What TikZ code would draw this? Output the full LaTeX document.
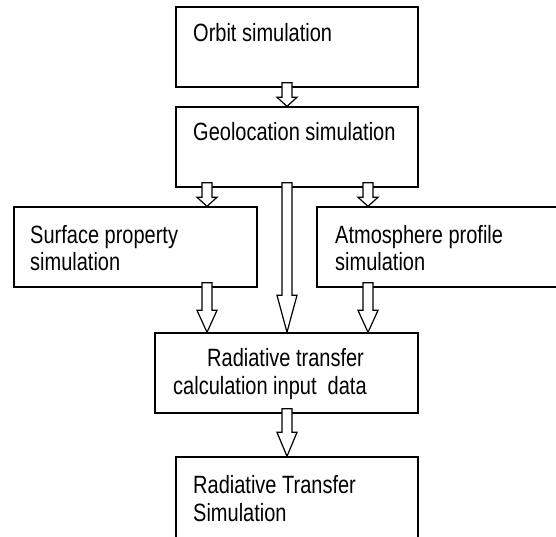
\documentclass[tikz,border=0pt]{standalone}
\usepackage{fontspec}
\setmainfont{Liberation Sans}[FakeStretch=0.8]
\usetikzlibrary{calc}
\tikzset{
  box/.style={draw=black, line width=1.4pt, fill=white, rectangle, inner sep=0pt},
  txt/.style={anchor=base west, inner sep=0pt, font=\fontsize{25}{28}\selectfont},
  barrow/.style={draw=black, line width=1.2pt, fill=white, line join=miter},
}
% block arrow: #1 start, #2 tip, #3 head length
\newcommand{\blockarr}[3]{%
  \draw[barrow] ($(#1)+(-5,0)$) -- ($(#2)+(-5,#3)$) -- ($(#2)+(-10,#3)$) -- (#2)
    -- ($(#2)+(10,#3)$) -- ($(#2)+(5,#3)$) -- ($(#1)+(5,0)$) -- cycle;}
\begin{document}
\begin{tikzpicture}[x=1pt,y=1pt]
\useasboundingbox (0,0) rectangle (556,-537);
\clip (0,0) rectangle (556,-537);
\fill[white] (0,0) rectangle (556,-537);
% boxes
\node[box, minimum width=242pt, minimum height=80pt] (orb) at (297,-47) {};
\node[box, minimum width=242pt, minimum height=80pt] (geo) at (297,-147) {};
\node[box, minimum width=243pt, minimum height=80pt] (surf) at (135.5,-247) {};
\node[box, minimum width=283pt, minimum height=80pt] (atm) at (458.5,-247) {};
\node[box, minimum width=263pt, minimum height=80pt] (rti) at (286.5,-373) {};
\node[box, minimum width=242pt, minimum height=100pt] (rts) at (297,-507) {};
% texts
\node[txt] (t1) at (193,-42) {Orbit simulation};
\node[txt] (t2) at (193,-141) {Geolocation simulation};
\node[txt] (t3a) at (30,-243) {Surface property};
\node[txt] (t3b) at (30,-270) {simulation};
\node[txt] (t4a) at (335,-243) {Atmosphere profile};
\node[txt] (t4b) at (335,-270) {simulation};
\node[txt] (t5a) at (207,-366) {Radiative transfer};
\node[txt] (t5b) at (173,-394) {calculation input\ \ data};
\node[txt] (t6a) at (193,-493) {Radiative Transfer};
\node[txt] (t6b) at (193,-521) {Simulation};
% arrow columns
\coordinate (xl) at (207,0);
\coordinate (xc) at (287,0);
\coordinate (xr) at (368,0);
\coordinate (s1) at ($(xc |- orb.south)+(0,5)$);
\coordinate (s2) at ($(xl |- geo.south)+(0,5)$);
\coordinate (s3) at ($(xc |- geo.south)+(0,5)$);
\coordinate (s4) at ($(xr |- geo.south)+(0,5)$);
\coordinate (s5) at ($(xl |- surf.south)+(0,5)$);
\coordinate (s6) at ($(xr |- atm.south)+(0,5)$);
\coordinate (s7) at ($(xc |- rti.south)+(0,5)$);
% arrows
\blockarr{s1}{xc |- geo.north}{9}
\blockarr{s2}{xl |- surf.north}{9}
\blockarr{s3}{xc |- rti.north}{37}
\blockarr{s4}{xr |- atm.north}{9}
\blockarr{s5}{xl |- rti.north}{22}
\blockarr{s6}{xr |- rti.north}{22}
\blockarr{s7}{xc |- rts.north}{24}
\end{tikzpicture}
\end{document}
